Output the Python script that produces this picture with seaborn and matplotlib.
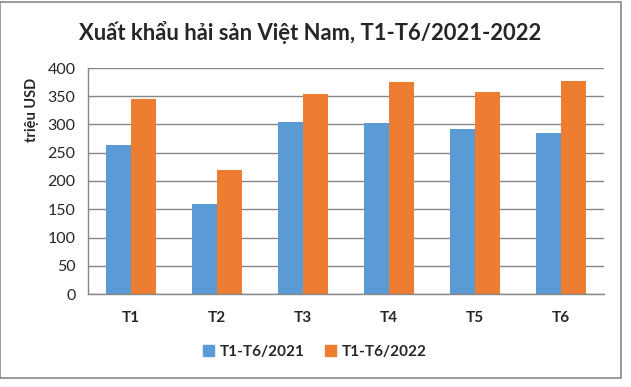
import matplotlib
matplotlib.use("Agg")
import matplotlib.pyplot as plt
from matplotlib.patches import Rectangle
from matplotlib.ticker import FixedLocator
import seaborn as sns
import pandas as pd

# data
months = ["T1", "T2", "T3", "T4", "T5", "T6"]
series_names = ["T1-T6/2021", "T1-T6/2022"]
values_2021 = [264, 159, 304, 303, 292, 285]
values_2022 = [345, 220, 354, 375, 357, 377]

df = pd.DataFrame({
    "month": months * 2,
    "series": [series_names[0]] * len(months) + [series_names[1]] * len(months),
    "value": values_2021 + values_2022,
})

sns.set_theme(style="white")
plt.rcParams["font.family"] = ["Lato", "DejaVu Sans"]

fig = plt.figure(figsize=(6.31, 3.87), dpi=100)
ax = fig.add_axes([88 / 631, 1 - 294 / 387, (604 - 88) / 631, (294 - 68) / 387])

sns.barplot(data=df, x="month", y="value", hue="series", order=months,
            hue_order=series_names, palette=["#5B9BD5", "#ED7D31"],
            width=0.57, saturation=1, linewidth=0, ax=ax, legend=False)

ax.set_ylim(0, 400)
ax.set_xlim(-0.5, len(months) - 0.5)
ax.set_yticks(range(0, 401, 50))
ax.yaxis.grid(True, color="#868686", linewidth=1)
ax.set_axisbelow(True)
ax.set_xlabel("")
ax.set_ylabel("")

for s in ["top", "right"]:
    ax.spines[s].set_visible(False)
for s in ["left", "bottom"]:
    ax.spines[s].set_color("#868686")
    ax.spines[s].set_linewidth(1)

# category separators like Excel
ax.xaxis.set_minor_locator(FixedLocator([i - 0.5 for i in range(len(months) + 1)]))
ax.tick_params(axis="x", which="major", length=0, pad=12, labelsize=11)
ax.tick_params(axis="x", which="minor", length=5, color="#868686", width=1, direction="out")
ax.tick_params(axis="y", length=5, color="#868686", width=1, direction="out", labelsize=11.5, pad=4)
for lbl in ax.get_xticklabels():
    lbl.set_fontweight("bold")

fig.text(310 / 631, 1 - 33 / 387, "Xuất khẩu hải sản Việt Nam, T1-T6/2021-2022",
         ha="center", va="center", fontsize=15.8, fontweight="bold")
fig.text(32 / 631, 1 - 110 / 387, "triệu USD", rotation=90, ha="center", va="center",
         fontsize=10.5, fontweight="bold")

handles = [Rectangle((0, 0), 1, 1, color=c) for c in ["#5B9BD5", "#ED7D31"]]
leg = fig.legend(handles, series_names, loc="center", bbox_to_anchor=(315 / 631, 1 - 352 / 387),
                 ncol=2, frameon=False, handlelength=0.7, handleheight=0.7,
                 handletextpad=0.4, columnspacing=1.3, prop={"weight": "bold", "size": 11})

# outer frame of the chart
fig.patches.append(Rectangle((0, 1 - 378 / 387), 621 / 631, 376 / 387, transform=fig.transFigure,
                             fill=False, edgecolor="#888888", linewidth=1.2))

fig.savefig("out.png", dpi=100)
